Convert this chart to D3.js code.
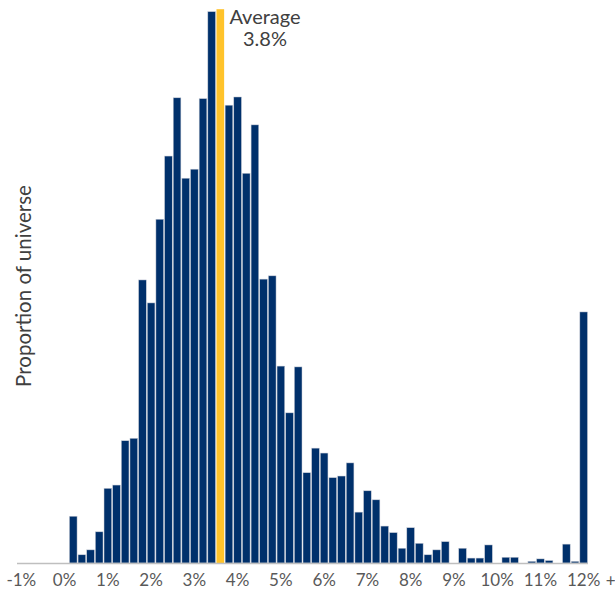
<!DOCTYPE html>
<html>
<head>
<meta charset="utf-8">
<script src="https://cdn.jsdelivr.net/npm/d3@7"></script>
<style>
  html, body { margin: 0; padding: 0; background: #fff; }
  svg { display: block; }
</style>
</head>
<body>
<svg id="chart" width="615" height="592"></svg>
<script>
// Bin labels (% yield), step 0.2 from -1.0 to 12.0 (last bin = 12%+)
const bins = d3.range(0, 66).map(i => +(-1 + i * 0.2).toFixed(1));

// Proportion of universe (%) per bin; null = slot taken by the average marker
const shares = [
  0, 0, 0, 0, 0, 0,
  0.57, 0.10, 0.16, 0.38, 0.91, 0.95, 1.49, 1.52,
  3.45, 3.17, 4.19, 4.96, 5.67, 4.69, 4.80, 5.66, 6.72,
  null,
  5.58, 5.68, 4.75, 5.34, 3.46, 3.50, 2.40, 1.83, 2.39,
  1.10, 1.40, 1.34, 1.04, 1.06, 1.22, 0.62, 0.88, 0.77,
  0.45, 0.37, 0.18, 0.43, 0.24, 0.10, 0.16, 0.26,
  0, 0.18, 0.06, 0.06, 0.22, 0, 0.07, 0.07, 0,
  0.02, 0.05, 0.03, 0, 0.23, 0.02, 3.06
];

// Average marker
const averageBin = [3.6];
const averageLabel = ["Average", "3.8%"];
const yMax = 6.75;

// Axis tick labels (every whole percent)
const tickBins = d3.range(-1, 13);
const tickLabels = tickBins.map(v => v + "%");

const svg = d3.select("#chart");

const x = d3.scaleBand()
  .domain(bins)
  .range([17, 588])
  .padding(0);

const y = d3.scaleLinear()
  .domain([0, yMax])
  .range([563, 9.2]);

const navy = "#00306B";
const yellow = "#FFC32B";
const font = "Lato, 'Open Sans', sans-serif";

// Bars
svg.append("g")
  .selectAll("rect")
  .data(bins.map((b, i) => ({ b, v: shares[i] })).filter(d => d.v))
  .join("rect")
  .attr("x", d => x(d.b) + 0.5)
  .attr("width", x.bandwidth() - 1)
  .attr("y", d => y(d.v))
  .attr("height", d => y(0) - y(d.v))
  .attr("fill", navy)
  .attr("stroke", "#c8ccd6")
  .attr("stroke-width", 0.5);

// Average marker bar
svg.append("g")
  .selectAll("rect")
  .data(averageBin)
  .join("rect")
  .attr("x", d => x(d) + 0.5)
  .attr("width", x.bandwidth() - 1)
  .attr("y", y(yMax))
  .attr("height", y(0) - y(yMax))
  .attr("fill", yellow);

// X axis line
svg.append("line")
  .attr("x1", x.range()[0]).attr("x2", x.range()[1])
  .attr("y1", y(0) + 0.5).attr("y2", y(0) + 0.5)
  .attr("stroke", "#bfbfbf")
  .attr("stroke-width", 1.5);

// X axis labels
const xAxis = d3.axisBottom(x)
  .tickValues(tickBins)
  .tickSize(0)
  .tickPadding(11)
  .tickFormat((d, i) => tickLabels[i]);

const gx = svg.append("g")
  .attr("transform", `translate(0,${y(0)})`)
  .call(xAxis);
gx.select(".domain").remove();
gx.selectAll("text")
  .attr("font-family", font)
  .attr("font-size", 17)
  .attr("fill", "#595959");

svg.append("text")
  .attr("x", x(12) + x.bandwidth() / 2 + 27)
  .attr("y", y(0) + 24)
  .attr("text-anchor", "middle")
  .attr("font-family", font)
  .attr("font-size", 17)
  .attr("fill", "#595959")
  .text("+");

// Y axis title
svg.append("text")
  .attr("transform", "translate(31,286) rotate(-90)")
  .attr("text-anchor", "middle")
  .attr("font-family", font)
  .attr("font-size", 20.5)
  .attr("fill", "#404040")
  .text("Proportion of universe");

// Average annotation
const ann = svg.append("text")
  .attr("text-anchor", "middle")
  .attr("font-family", font)
  .attr("font-size", 20)
  .attr("fill", "#404040");
ann.selectAll("tspan")
  .data(averageLabel)
  .join("tspan")
  .attr("x", x(averageBin[0]) + 49)
  .attr("y", (d, i) => 24 + i * 22)
  .text(d => d);
</script>
</body>
</html>
